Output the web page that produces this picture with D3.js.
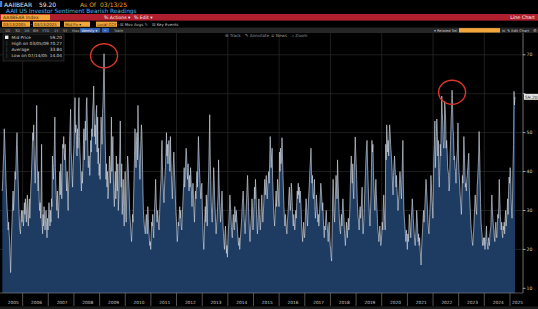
<!DOCTYPE html>
<html>
<head>
<meta charset="utf-8">
<script src="https://cdn.jsdelivr.net/npm/d3@7"></script>
<style>
html, body { margin: 0; padding: 0; background: #000; overflow: hidden; }
svg { display: block; font-family: "DejaVu Sans", "Liberation Sans", sans-serif; }
</style>
</head>
<body>
<svg id="chart" width="538" height="309"></svg>
<script>
// AAII bearish readings, one value per weekly survey (Thursdays)
const bear2005 = [35,38,42, 45,51,48,44, 40,36,33,30, 28,25,27,24,22, 18,14.04,20,24, 28,32,35,30, 33,36,40,38,42, 47,50,44,39, 34,30,26,25, 24,28,30,27,29];
const bear2006 = [30,26,28,32, 29,33,30,27, 31,34,29,26,30, 33,28,31,36, 38,42,46,50, 48,52,44,40,37, 43,47,57,42, 38,35,40,33,30, 32,28,36,47, 27,24,29,26, 31,28,25,27,30, 26,23,28,25];
const bear2007 = [28,32,29,26, 30,27,33,31, 44,40,38,42,47, 54,41,36,33, 30,35,32,28,31, 36,40,34,42, 38,33,41,47, 46,49,45,43,47, 42,38,35,40, 33,30,36,39, 48,52,56,45,43, 39,36,41,44];
const bear2008 = [47,55,59,50,52, 48,44,51,46, 55,59,49,45, 42,38,35,40, 37,41,47,51,43, 50,53,48,57, 59,52,46,41,44, 44,39,43,48, 45,51,49,56, 58,62,54,49,52, 47,55,57,45, 54,42,46,39];
const bear2009 = [42,38,45,54,50, 47,55,58,63, 70.27,61,50,44, 38,42,36,40,33, 35,39,44,41, 37,43,54,40, 45,49,38,34,31, 36,40,33,44, 38,35,42,30, 33,39,45,53,41, 36,42,29,33, 38,31,26,35,40];
const bear2010 = [30,27,33,40, 44,42,38,35, 30,28,26,24, 22,25,29,27,33, 38,44,51,46, 41,47,50,43, 57,49,45,42,38, 43,48,52,50, 44,36,30,28,26, 25,24,27,29, 26,24,31,28, 25,23,21,22,20];
const bear2011 = [24,27,26,29, 25,23,28,31, 34,38,33,29,27, 30,28,26,25, 29,33,36,38, 45,48,40,37,34, 32,36,39,41, 45,50,44,47, 42,46,48,44,40, 49,43,39,36, 33,38,42,45, 41,38,34,30,28];
const bear2012 = [25,22,24,27, 26,29,31,28, 30,26,25,28,31, 34,37,41,36, 38,43,46,44,40, 38,42,37,35, 39,36,41,38, 34,31,35,37,33, 30,27,32,35, 33,37,40,36, 43,49,45,41,38, 35,33,36,37];
const bear2013 = [30,26,22,20,24, 28,31,27,34, 30,26,33,36, 40,47,54.6,44, 38,32,29,27,31, 35,41,38,33, 30,27,24,26, 28,31,34,43,37, 33,30,27,29, 32,35,31,26,24, 22,20,24,26, 23,19,21,18];
const bear2014 = [22,25,27,30,34, 32,29,26,24, 23,27,29,26, 25,31,29,27, 30,28,26,24,22, 21,23,20,22, 24,26,28,31,33, 35,32,28,26, 24,27,30,33, 36,39,35,31,27, 24,22,25,27, 29,33,30,25];
const bear2015 = [27,31,36,33,38, 35,30,27,24, 26,30,33,29, 27,25,28,31,34, 30,27,29,32, 35,38,34,36, 39,35,33,36,38, 40,37,43,49, 45,41,44,46, 38,34,30,28,26, 29,32,35,31, 34,38,36,33,31];
const bear2016 = [45,40,46,42, 43,48.7,44,39, 35,31,28,26,29, 27,25,24,27, 29,31,34,36, 32,30,33,37,35, 31,28,26,29, 27,25,27,30, 28,32,35,33,37, 34,36,32,35, 33,30,26,24, 22,25,27,24,23];
const bear2017 = [26,30,33,31, 28,26,30,33, 35,38,41,43,46, 40,37,39,34, 33,35,38,31, 28,30,34,32,30, 27,29,26,28, 31,34,37,35,33, 30,32,28,25, 23,26,25,28, 30,27,26,24,22, 25,27,23,21];
const bear2018 = [20,18,17,24, 33,38,34,29, 27,31,35,39,36, 33,43,38,34, 30,27,25,24,27, 29,26,31,33, 30,28,25,23, 21,24,27,25,23, 26,28,25,27, 30,36,41,44, 39,37,42,35,33, 40,44,48.9,45];
const bear2019 = [42,38,33,30,28, 27,25,29,31, 28,30,33,36, 27,24,26,29, 33,37,40,44,46, 48,42,38,34, 31,28,26,29, 34,41,48,45,47, 40,36,33,30, 35,38,34,31,28, 25,24,22,23, 26,24,21,22];
const bear2020 = [24,27,25,31,34, 30,27,25,47, 43,52,49,45, 48,44,49,52,50, 47,45,43,40, 36,34,39,42, 44,41,38,36,39, 35,33,30,32, 34,37,40,38, 35,33,38,43,48, 36,30,28,26, 24,22,25,23,20];
const bear2021 = [24,22,25,29, 27,25,23,28, 30,33,31,28, 26,24,22,21,23, 26,30,28,25, 22,24,21,23, 20,18,16,20,23, 25,28,30,27, 29,32,35,38,36, 33,30,27,25, 24,27,30,33, 39,36,33,31,28];
const bear2022 = [37,44,47,53, 41,45,49,53.5, 50,44,48,39,36, 41,47,44,52, 59.4,55,53,48, 46,47,58,56,53, 46,48,45,41, 40,39,35,37, 44,48,53,56,60.9, 56.5,51,49,43, 44,41,40,37, 42,44,46,52.5,44];
const bear2023 = [40,38,35,33, 31,29,34,39, 37,42,49,45,40, 36,37,35,38, 39,41,43,44.7, 36,33,30,27,25, 24,22,21,23, 25,28,31,34,32, 30,29,36,38, 41,44,50.3,45, 38,32,27,25,24, 21,22,23,21];
const bear2024 = [23,20,22,24, 26,22,21,20,23, 22,21,24,25, 26,31,34,30, 28,26,25,23,22, 25,27,24,23, 26,29,28,31, 38,33,29,27,25, 27,24,23,26, 25,27,24,28,30, 26,28,30,33, 29,35,38.6,37];
const bear2025 = [41,40,33,30,28, 33,41,47,60.6, 57.1,59.2];

const yearlyReadings = [
    [2005, bear2005], [2006, bear2006], [2007, bear2007], [2008, bear2008], [2009, bear2009],
    [2010, bear2010], [2011, bear2011], [2012, bear2012], [2013, bear2013], [2014, bear2014],
    [2015, bear2015], [2016, bear2016], [2017, bear2017], [2018, bear2018], [2019, bear2019],
    [2020, bear2020], [2021, bear2021], [2022, bear2022], [2023, bear2023], [2024, bear2024],
    [2025, bear2025]
];

// legend box values
const legendRows = [
    ["Mid Price", "59.20"],
    ["High on 03/05/09", "70.27"],
    ["Average", "33.84"],
    ["Low on 07/14/05", "14.04"]
];
const yTicks = [10, 20, 30, 40, 50, 60, 70];
const lastValue = 59.20;
// circled peaks
const circledPeaks = [new Date(2009, 2, 5), new Date(2022, 8, 29)];

const W = 538, H = 309;
const svg = d3.select("#chart");

const firstDate = new Date(2005, 2, 17);
function firstThursday(year) {
    let d = new Date(year, 0, 1);
    while (d.getDay() !== 4) d = d3.timeDay.offset(d, 1);
    return d;
}

const data = [];
yearlyReadings.forEach(([yr, vals]) => {
    let d = yr === 2005 ? firstDate : firstThursday(yr);
    vals.forEach(v => {
        data.push({ date: d, value: v });
        d = d3.timeDay.offset(d, 7);
    });
});

const plot = { left: 2, right: 523, top: 33, bottom: 293 };

const x = d3.scaleTime()
    .domain([new Date(2005, 2, 13), new Date(2025, 6, 5)])
    .range([plot.left, plot.right]);

const y = d3.scaleLinear()
    .domain([8.8, 73.8])
    .range([plot.bottom, 40]);

svg.append("rect").attr("width", W).attr("height", H).attr("fill", "#000");

// ---------- header ----------
function txt(xp, yp, s, fill, size, anchor) {
    return svg.append("text")
        .attr("x", xp).attr("y", yp)
        .attr("fill", fill)
        .attr("font-size", size)
        .attr("text-anchor", anchor || "start")
        .text(s);
}

svg.append("rect").attr("x", 0).attr("y", 1).attr("width", 2.2).attr("height", 6).attr("fill", "#3d7fd9");
txt(4, 6.6, "AAIIBEAR", "#e8e8e8", 6);
txt(39, 6.6, "59.20", "#e8e8e8", 6);
txt(80, 6.6, "As Of", "#f2a129", 6);
txt(100, 6.6, "03/13/25", "#f2a129", 6);
txt(6, 12.8, "AAII US Investor Sentiment Bearish Readings", "#55b4e4", 5.8);

// red command bar
svg.append("rect").attr("x", 0).attr("y", 14).attr("width", W).attr("height", 6.6).attr("fill", "#b01f2d");
svg.append("rect").attr("x", 1).attr("y", 14.6).attr("width", 49).attr("height", 5.4).attr("fill", "#f2a63c");
txt(3, 18.9, "AAIIBEAR Index", "#3b2200", 4.6);
txt(104, 18.9, "% Actions \u25BE", "#f4f4f4", 4.6);
txt(134, 18.9, "% Edit \u25BE", "#f4f4f4", 4.6);
txt(535, 18.9, "Line Chart", "#f4f4f4", 4.8, "end");

// input row
const inputs = [[2, 28, "03/13/2005"], [33, 27, "03/13/2025"], [64, 26, "Mid Px \u25BE"], [96, 21, "Local CCY \u25BE"]];
inputs.forEach(([ix, iw, s]) => {
    svg.append("rect").attr("x", ix).attr("y", 21.6).attr("width", iw).attr("height", 5.2).attr("fill", "#f2a63c");
    txt(ix + 1.2, 25.8, s, "#3b2200", 3.9);
});
txt(30.5, 25.8, "-", "#ccc", 4.5);
txt(120, 25.8, "\u2612 Mov Avgs \u270E", "#c8c8c8", 3.9);
txt(152, 25.8, "\u2612 Key Events", "#c8c8c8", 3.9);

// range row
svg.append("rect").attr("x", 0).attr("y", 27.6).attr("width", W).attr("height", 5.4).attr("fill", "#262626");
const ranges = [[5, "1D"], [15, "3D"], [24, "1M"], [33, "6M"], [42, "YTD"], [54, "1Y"], [63, "5Y"], [72, "Max"]];
ranges.forEach(([rx, s]) => txt(rx, 31.7, s, "#aaaaaa", 3.6));
svg.append("rect").attr("x", 80).attr("y", 28.1).attr("width", 20).attr("height", 4.4).attr("fill", "#2f62b8");
txt(81.5, 31.7, "Weekly \u25BE", "#eeeeee", 3.6);
svg.append("rect").attr("x", 102).attr("y", 28.1).attr("width", 7).attr("height", 4.4).attr("fill", "#2f62b8");
txt(103.5, 31.7, "~", "#eeeeee", 3.6);
txt(114, 31.7, "Table", "#aaaaaa", 3.6);
txt(434, 31.7, "\u25BE Related Sel", "#cccccc", 3.6);
svg.append("rect").attr("x", 459).attr("y", 28.1).attr("width", 41).attr("height", 4.4).attr("fill", "#f2a63c");
txt(502, 31.7, "\u2612", "#cccccc", 3.6);
txt(507, 31.7, "\u270E Edit Chart", "#cccccc", 3.6);
txt(533, 31.7, "\u2699", "#cccccc", 4.2);

// ---------- grid ----------
const grid = svg.append("g");
grid.selectAll(".hg").data(yTicks.filter(t => t > 10))
    .enter().append("line")
    .attr("x1", 0).attr("x2", plot.right)
    .attr("y1", d => y(d)).attr("y2", d => y(d))
    .attr("stroke", "#333").attr("stroke-width", 0.6);

const evenYears = d3.timeYear.range(new Date(2006, 0, 1), new Date(2025, 0, 2), 2);
grid.selectAll(".vg").data(evenYears)
    .enter().append("line")
    .attr("x1", d => x(d)).attr("x2", d => x(d))
    .attr("y1", plot.top).attr("y2", plot.bottom)
    .attr("stroke", "#333").attr("stroke-width", 0.6);

// ---------- series ----------
const area = d3.area()
    .x(d => x(d.date))
    .y0(plot.bottom)
    .y1(d => y(d.value));

const line = d3.line()
    .x(d => x(d.date))
    .y(d => y(d.value));

svg.append("path").datum(data)
    .attr("d", area)
    .attr("fill", "#1e3b62");

svg.append("path").datum(data)
    .attr("d", line)
    .attr("fill", "none")
    .attr("stroke", "#d4dae3")
    .attr("stroke-width", 0.7)
    .attr("stroke-opacity", 0.9);

// red circles around the peaks
circledPeaks.forEach(pd => {
    const p = data.find(d => +d.date === +pd);
    svg.append("ellipse")
        .attr("cx", x(p.date))
        .attr("cy", y(p.value) + 2)
        .attr("rx", 13.5).attr("ry", 12)
        .attr("fill", "none")
        .attr("stroke", "#d8362a")
        .attr("stroke-width", 1.4);
});

// ---------- legend box ----------
svg.append("rect").attr("x", 3).attr("y", 34).attr("width", 61).attr("height", 27)
    .attr("fill", "#0c0c0c").attr("stroke", "#444").attr("stroke-width", 0.5);
svg.append("rect").attr("x", 5).attr("y", 35.6).attr("width", 3.4).attr("height", 3.4).attr("fill", "#eeeeee");
legendRows.forEach(([label, val], i) => {
    const ly = 39.2 + i * 5.8;
    if (i > 0) txt(5.5, ly, "\u2502", "#777", 4);
    txt(11.5, ly, label, "#cfcfcf", 4.3);
    txt(62, ly, val, "#cfcfcf", 4.3, "end");
});

// chart toolbar
const tools = [[225, "\u2295 Track"], [245, "\u270E Annotate"], [271, "\u2261 News"], [292, "\u2315 Zoom"]];
tools.forEach(([tx, s]) => txt(tx, 37, s, "#9a9a9a", 4.2));

// ---------- right axis ----------
const yAxis = svg.append("g");
yAxis.append("line")
    .attr("x1", plot.right).attr("x2", plot.right)
    .attr("y1", plot.top).attr("y2", plot.bottom)
    .attr("stroke", "#bbbbbb").attr("stroke-width", 0.6);
yTicks.forEach(t => {
    yAxis.append("line")
        .attr("x1", plot.right).attr("x2", plot.right + 2.5)
        .attr("y1", y(t)).attr("y2", y(t))
        .attr("stroke", "#cccccc").attr("stroke-width", 0.8);
    // the last-price tag covers the nearby tick label
    if (Math.abs(t - lastValue) > 3) txt(plot.right + 3.5, y(t) + 1.6, String(t), "#cccccc", 4.6);
});
svg.append("rect")
    .attr("x", plot.right + 1).attr("y", y(lastValue) - 3)
    .attr("width", 14).attr("height", 6).attr("fill", "#e4e4e4");
txt(plot.right + 2, y(lastValue) + 1.7, lastValue.toFixed(2), "#222", 4.4);

// ---------- bottom axis ----------
const xAxis = svg.append("g");
xAxis.append("line")
    .attr("x1", 0).attr("x2", plot.right)
    .attr("y1", plot.bottom).attr("y2", plot.bottom)
    .attr("stroke", "#8a8a8a").attr("stroke-width", 0.6);

const [d0, d1] = x.domain();
const yearStarts = d3.timeYear.range(d3.timeYear.ceil(d0), d1);
xAxis.selectAll(".tick").data(yearStarts)
    .enter().append("line")
    .attr("x1", d => x(d)).attr("x2", d => x(d))
    .attr("y1", plot.bottom).attr("y2", 306)
    .attr("stroke", "#8a8a8a").attr("stroke-width", 0.6);

const yearLabels = d3.timeYear.range(d3.timeYear.floor(d0), d1);
yearLabels.forEach(ys => {
    const a = Math.max(x(ys), plot.left);
    const b = Math.min(x(d3.timeYear.offset(ys, 1)), plot.right);
    txt((a + b) / 2 + 1, 303.5, String(ys.getFullYear()), "#c8c8c8", 4.3, "middle");
});
svg.append("rect").attr("x", 0).attr("y", 306.5).attr("width", W).attr("height", 2.5).attr("fill", "#1c1c1c");
</script>
</body>
</html>
